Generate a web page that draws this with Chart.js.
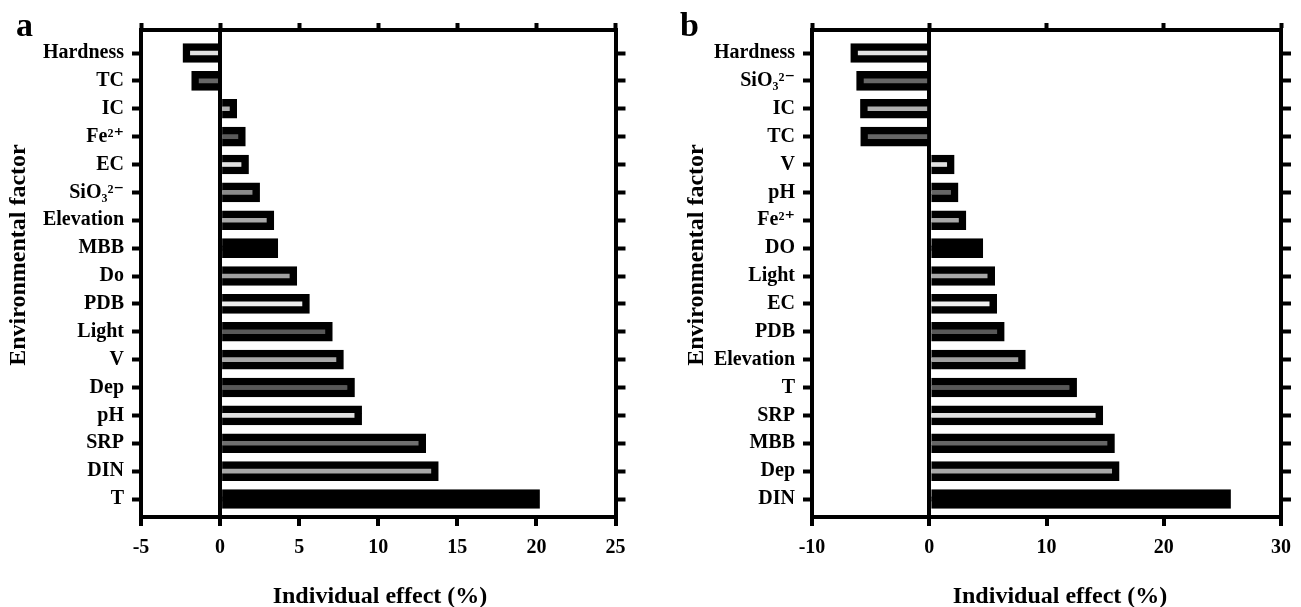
<!DOCTYPE html>
<html>
<head>
<meta charset="utf-8">
<title>Individual effect</title>
<script src="https://cdn.jsdelivr.net/npm/chart.js@4.4.1/dist/chart.umd.min.js"></script>
<style>
  body { margin: 0; background: #fff; }
  #wrap { position: relative; width: 1301px; height: 607px; overflow: hidden; }
  canvas { position: absolute; top: 0; }
  #chartA { left: 0; }
  #chartB { left: 650px; }
</style>
</head>
<body>
<div id="wrap">
  <canvas id="chartA" width="650" height="607"></canvas>
  <canvas id="chartB" width="651" height="607"></canvas>
</div>
<script>
// panel a
const catsA = ['Hardness', 'TC', 'IC', 'Fe²⁺', 'EC', 'SiO₃²⁻', 'Elevation', 'MBB', 'Do', 'PDB', 'Light', 'V', 'Dep', 'pH', 'SRP', 'DIN', 'T'];
const valsA = [-2.35, -1.8, 1.05, 1.6, 1.8, 2.5, 3.4, 3.65, 4.85, 5.65, 7.1, 7.8, 8.5, 8.95, 13.0, 13.8, 20.2];
const stripeA = ['#e2e2e2', '#666666', '#b0b0b0', '#5a5a5a', '#e2e2e2', '#8a8a8a', '#a8a8a8', '#000000', '#a0a0a0', '#ededed', '#585858', '#a8a8a8', '#585858', '#e2e2e2', '#707070', '#a8a8a8', '#000000'];
const ticksA = [-5, 0, 5, 10, 15, 20, 25];

// panel b
const catsB = ['Hardness', 'SiO₃²⁻', 'IC', 'TC', 'V', 'pH', 'Fe²⁺', 'DO', 'Light', 'EC', 'PDB', 'Elevation', 'T', 'SRP', 'MBB', 'Dep', 'DIN'];
const valsB = [-6.7, -6.2, -5.87, -5.85, 2.13, 2.46, 3.13, 4.57, 5.58, 5.75, 6.4, 8.2, 12.57, 14.8, 15.8, 16.2, 25.7];
const stripeB = ['#e2e2e2', '#666666', '#b0b0b0', '#666666', '#e2e2e2', '#666666', '#a8a8a8', '#000000', '#a8a8a8', '#eeeeee', '#585858', '#a0a0a0', '#585858', '#e2e2e2', '#666666', '#a8a8a8', '#000000'];
const ticksB = [-10, 0, 10, 20, 30];

const xTitle = 'Individual effect (%)';
const yTitle = 'Environmental factor';

const FONT = '"Liberation Serif", "Times New Roman", "DejaVu Serif", serif';

// titles + panel letter, drawn on the canvas
const textPlugin = {
  id: 'panelText',
  afterDraw(chart, args, o) {
    const ctx = chart.ctx;
    ctx.save();
    ctx.fillStyle = '#000';
    ctx.textBaseline = 'alphabetic';
    ctx.textAlign = 'left';
    ctx.font = 'bold 34px ' + FONT;
    ctx.fillText(o.letter, o.letterX, 36);
    ctx.font = 'bold 24px ' + FONT;
    ctx.textAlign = 'center';
    ctx.fillText(xTitle, o.xTitleX, 603);
    ctx.translate(o.yTitleX, 255);
    ctx.rotate(-Math.PI / 2);
    ctx.fillText(yTitle, 0, 0);
    ctx.restore();
  }
};

function makeChart(id, cats, vals, stripes, ticks, box, txt) {
  const n = cats.length;
  // index positions: first bar 23px under the top frame, last 18px above the bottom
  const step = (box.bottom - box.top - 41) / (n - 1);
  const yMin = -23 / step;
  const yMax = (n - 1) + 18 / step;
  const idxTicks = s => { s.ticks = cats.map((c, i) => ({ value: i })); };
  const xMin = ticks[0], xMax = ticks[ticks.length - 1];
  const xStep = ticks[1] - ticks[0];
  const tickFont = { family: FONT, size: 20, weight: 'bold' };

  return new Chart(document.getElementById(id), {
    type: 'bar',
    data: {
      datasets: [{
        data: vals.map((v, i) => ({ x: v, y: i })),
        backgroundColor: stripes,
        borderColor: '#000',
        borderWidth: 7.5,
        borderSkipped: 'start',
        barThickness: 19,
        xAxisID: 'x',
        yAxisID: 'y'
      }]
    },
    options: {
      indexAxis: 'y',
      responsive: false,
      animation: false,
      events: [],
      layout: { padding: 0 },
      plugins: { legend: { display: false }, tooltip: { enabled: false }, panelText: txt },
      scales: {
        x: {
          type: 'linear', position: 'bottom', min: xMin, max: xMax, z: 1, offset: false,
          ticks: { stepSize: xStep, color: '#000', font: tickFont, padding: 10 },
          grid: {
            offset: false,
            color: c => (c.tick && c.tick.value === 0) ? '#000' : 'rgba(0,0,0,0)',
            lineWidth: 4, tickColor: '#000', tickWidth: 4, tickLength: 9
          },
          border: { color: '#000', width: 4 },
          afterFit: s => { s.height = 607 - box.bottom; }
        },
        x2: {
          type: 'linear', position: 'top', min: xMin, max: xMax, offset: false,
          ticks: { stepSize: xStep, display: false },
          grid: { offset: false, drawOnChartArea: false, tickColor: '#000', tickWidth: 4, tickLength: 7 },
          border: { color: '#000', width: 4 },
          afterFit: s => { s.height = box.top; }
        },
        y: {
          type: 'linear', position: 'left', reverse: true, min: yMin, max: yMax, offset: false,
          afterBuildTicks: idxTicks,
          ticks: { autoSkip: false, color: '#000', font: tickFont, padding: 8, callback: v => cats[v] },
          grid: { offset: false, drawOnChartArea: false, tickColor: '#000', tickWidth: 4, tickLength: 9 },
          border: { color: '#000', width: 4 },
          afterFit: s => { s.width = box.left; }
        },
        y2: {
          type: 'linear', position: 'right', reverse: true, min: yMin, max: yMax, offset: false,
          afterBuildTicks: idxTicks,
          ticks: { display: false },
          grid: { offset: false, drawOnChartArea: false, tickColor: '#000', tickWidth: 4, tickLength: 10 },
          border: { color: '#000', width: 4 },
          afterFit: s => { s.width = box.width - box.right; }
        }
      }
    },
    plugins: [textPlugin]
  });
}

makeChart('chartA', catsA, valsA, stripeA, ticksA,
  { left: 141, right: 615.5, top: 30, bottom: 517, width: 650 },
  { letter: 'a', letterX: 16, xTitleX: 380, yTitleX: 25 });

makeChart('chartB', catsB, valsB, stripeB, ticksB,
  { left: 162, right: 637, top: 30, bottom: 517, width: 651 },
  { letter: 'b', letterX: 30, xTitleX: 410, yTitleX: 53 });
</script>
</body>
</html>
